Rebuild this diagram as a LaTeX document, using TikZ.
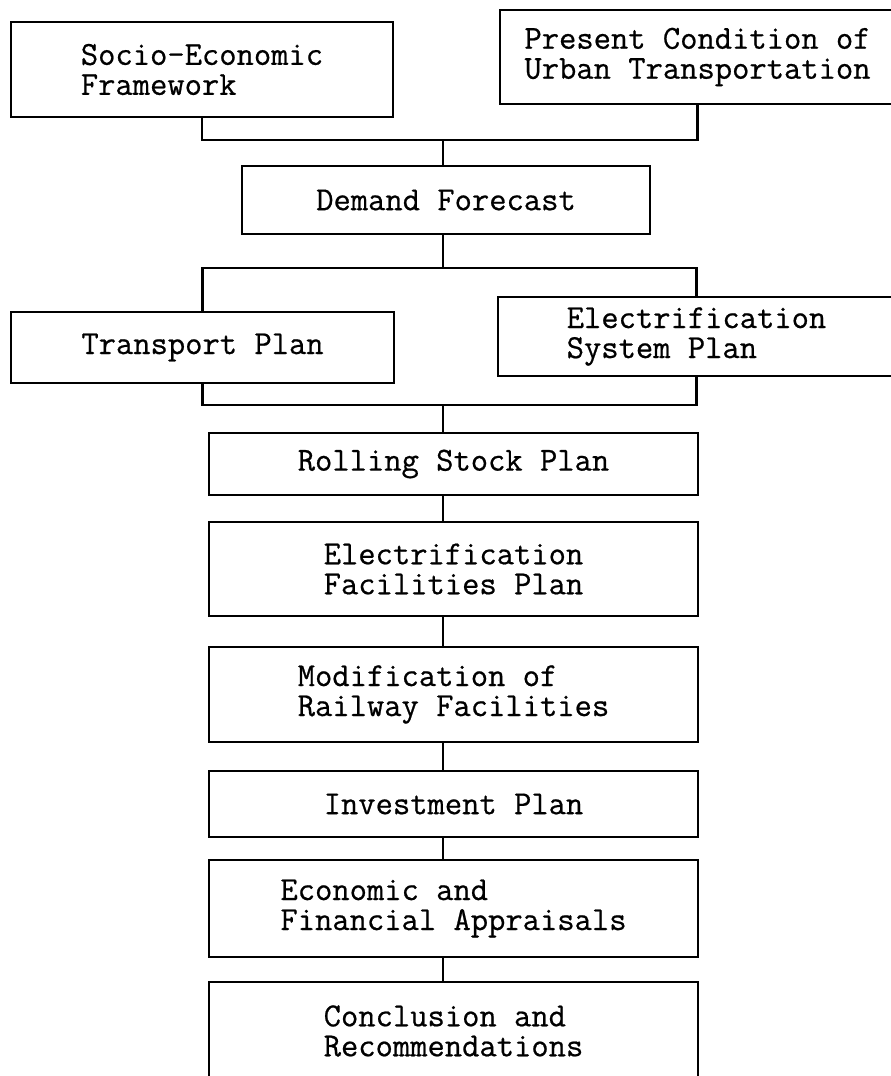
\documentclass[tikz,border=0pt]{standalone}
\usepackage{fontspec}
\newfontfamily\typerfont{Latin Modern Mono}[FakeBold=0.6]
\begin{document}
\begin{tikzpicture}[x=0.5pt,y=-0.5pt,
    box/.style={draw, line width=1.1pt, inner sep=0pt, align=left,
      font=\typerfont\fontsize{16.8}{15}\selectfont},
    link/.style={line width=1.1pt}]
  \useasboundingbox (0,0) rectangle (890,1076);
  % top row
  \node[box, minimum width=191pt, minimum height=47.5pt] (se) at (202,69.5)
    {Socio-Economic\\Framework};
  \node[box, minimum width=197.5pt, minimum height=47pt] (pc) at (697.5,57)
    {Present Condition of\\Urban Transportation};
  \node[box, minimum width=204pt, minimum height=34pt] (df) at (446,200)
    {Demand Forecast};
  % second row
  \node[box, minimum width=191.5pt, minimum height=35.5pt] (tp) at (202.5,347.5)
    {Transport Plan};
  \node[box, minimum width=198.5pt, minimum height=39.5pt] (es) at (696.5,336.5)
    {Electrification\\System Plan};
  % main column
  \node[box, minimum width=244.5pt, minimum height=31pt] (rs) at (453.5,464)
    {Rolling Stock Plan};
  \node[box, minimum width=244.5pt, minimum height=47pt] (ef) at (453.5,569)
    {Electrification\\Facilities Plan};
  \node[box, minimum width=244.5pt, minimum height=47.5pt] (mr) at (453.5,694.5)
    {Modification of\\Railway Facilities};
  \node[box, minimum width=244.5pt, minimum height=33pt] (ip) at (453.5,804)
    {Investment Plan};
  \node[box, minimum width=244.5pt, minimum height=48.5pt] (ea) at (453.5,908.5)
    {Economic and\\Financial Appraisals};
  \node[box, minimum width=244.5pt, minimum height=49pt] (cr) at (453.5,1031)
    {Conclusion and\\Recommendations};
  % joins
  \coordinate (trunk) at (443,0);
  \coordinate (j1) at (443,140);
  \coordinate (j2) at (443,268);
  \coordinate (j3) at (443,405);
  \draw[link] (se.south) |- (j1) -| (pc.south);
  \draw[link] (j1) -- (df.north -| j1);
  \draw[link] (df.south -| j2) -- (j2);
  \draw[link] (tp.north) |- (j2) -| (es.north);
  \draw[link] (tp.south) |- (j3) -| (es.south);
  \draw[link] (j3) -- (rs.north -| j3);
  \foreach \a/\b in {rs/ef,ef/mr,mr/ip,ip/ea,ea/cr}
    \draw[link] (\a.south -| trunk) -- (\b.north -| trunk);
\end{tikzpicture}
\end{document}
